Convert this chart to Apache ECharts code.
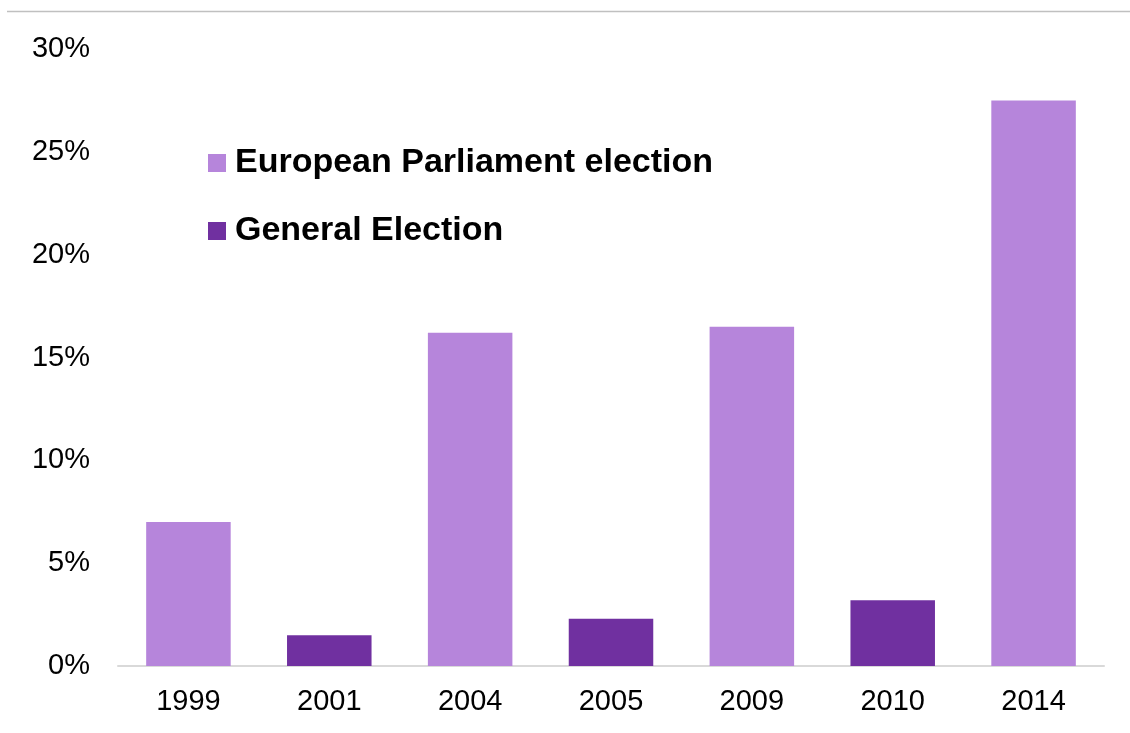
<!DOCTYPE html>
<html>
<head>
    <meta charset="utf-8">
    <title>UKIP vote share</title>
    <script src="https://cdn.jsdelivr.net/npm/echarts@6/dist/echarts.min.js"></script>
    <style>
        html, body { margin: 0; padding: 0; background: #fff; }
        #main { width: 1130px; height: 733px; }
    </style>
</head>
<body>
    <div id="main"></div>
    <script>
        var myChart = echarts.init(document.getElementById('main'));

        // 数据
        const years = ['1999', '2001', '2004', '2005', '2009', '2010', '2014'];
        const europeanValues = [7.0, '-', 16.2, '-', 16.5, '-', 27.5];
        const generalValues = ['-', 1.5, '-', 2.3, '-', 3.2, '-'];

        const font = '"Liberation Sans", Arial, sans-serif';

        const option = {
            animation: false,
            textStyle: { fontFamily: font },
            graphic: [{
                type: 'line',
                shape: { x1: 7, y1: 11.5, x2: 1130, y2: 11.5 },
                style: { stroke: '#c0c0c0', lineWidth: 1.5 }
            }],
            legend: {
                orient: 'vertical',
                left: 208,
                top: 146,
                padding: 0,
                itemGap: 34,
                itemWidth: 18,
                itemHeight: 18,
                icon: 'rect',
                textStyle: {
                    fontFamily: font,
                    fontSize: 34,
                    fontWeight: 'bold',
                    color: '#000',
                    padding: [0, 0, 0, 4]
                },
                data: ['European Parliament election', 'General Election']
            },
            grid: {
                left: 118,
                right: 26,
                top: 49,
                bottom: 67
            },
            xAxis: {
                type: 'category',
                data: years,
                axisTick: { show: false },
                axisLine: { lineStyle: { color: '#d9d9d9', width: 2 } },
                axisLabel: {
                    color: '#000',
                    fontSize: 29,
                    fontFamily: font,
                    margin: 21
                }
            },
            yAxis: {
                type: 'value',
                min: 0,
                max: 30,
                interval: 5,
                splitLine: { show: false },
                axisLine: { show: false },
                axisTick: { show: false },
                axisLabel: {
                    color: '#000',
                    fontSize: 29,
                    fontFamily: font,
                    margin: 28,
                    formatter: '{value}%'
                }
            },
            series: [
                {
                    name: 'European Parliament election',
                    type: 'bar',
                    stack: 'vote',
                    barCategoryGap: '40%',
                    itemStyle: { color: '#b685db' },
                    data: europeanValues
                },
                {
                    name: 'General Election',
                    type: 'bar',
                    stack: 'vote',
                    barCategoryGap: '40%',
                    itemStyle: { color: '#7030a0' },
                    data: generalValues
                }
            ]
        };

        myChart.setOption(option);
    </script>
</body>
</html>
